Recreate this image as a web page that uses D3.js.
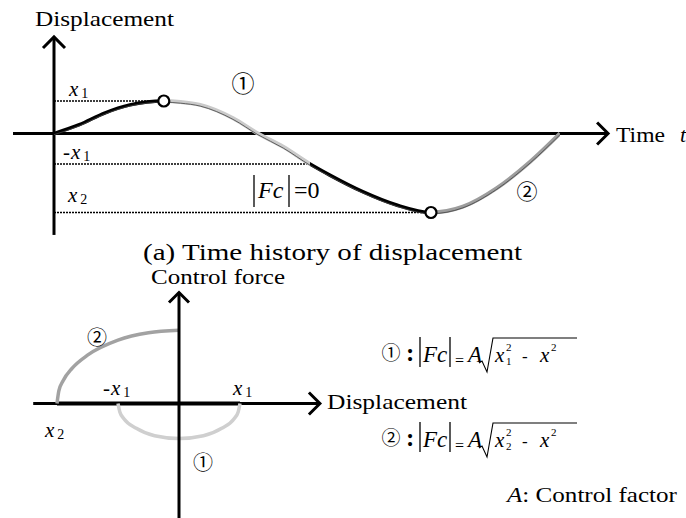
<!DOCTYPE html>
<html>
<head>
<meta charset="utf-8">
<script src="https://cdn.jsdelivr.net/npm/d3@7"></script>
<style>
body { margin: 0; background: #fff; }
</style>
</head>
<body>
<div id="chart"></div>
<script>

// ---- (a) time history of displacement ----
const histTime = [0, 0.5, 1.0, 1.5, 2.17, 2.5, 2.89, 3.54, 4.03, 4.53, 5.06, 5.45, 6.1, 6.77, 7.45, 8.08, 8.75, 9.41, 10];
const histDisp = [0, 0.27, 0.63, 0.88, 1.0, 0.97, 0.88, 0.47, 0, -0.41, -0.94, -1.28, -1.79, -2.2, -2.43, -2.25, -1.68, -0.87, 0];

// segment boundaries along time and what happens in each
const segBounds = [0, 2.17, 5.06, 7.45, 10];
const segKinds = ["free", "phase1", "free", "phase2"];

// dotted reference levels (x1, -x1, x2) and where they stop
const refLevels = [1, -0.94, -2.43];
const refEnds = [2.17, 5.06, 7.45];

// switching points (open circles)
const switchTime = [2.17, 7.45];
const switchDisp = [1, -2.43];

// ---- (b) control force vs displacement ----
const phase1X = [-1, -0.97, -0.9, -0.7, -0.4, 0, 0.4, 0.7, 0.9, 0.97, 1];
const phase1F = [0, -0.24, -0.44, -0.71, -0.92, -1, -0.92, -0.71, -0.44, -0.24, 0];
const phase2X = [-2, -1.97, -1.9, -1.75, -1.5, -1.0, -0.5, 0];
const phase2F = [0, 0.36, 0.65, 1.01, 1.38, 1.81, 2.02, 2.09];
const zeroForceSpan = [-2, 1];   // |Fc| = 0 along the axis

const W = 686, H = 518;
const SERIF = '"Liberation Serif", "Times New Roman", serif';
const CJK = '"Noto Sans CJK JP", sans-serif';

const segStyle = {
    free:   {color: "#000", width: 3.5},
    phase1: {color: "#cacaca", width: 4},
    phase2: {color: "#9d9d9d", width: 4}
};

const svg = d3.select("#chart").append("svg")
    .attr("width", W)
    .attr("height", H)
    .style("font-family", SERIF);

const defs = svg.append("defs");

// arrow heads drawn at the tip of an axis
function arrowRight(g, x, y, s) {
    g.append("path")
        .attr("d", `M${x - s},${y - s} L${x},${y} L${x - s},${y + s}`)
        .attr("fill", "none").attr("stroke", "#000").attr("stroke-width", 3);
}
function arrowUp(g, x, y, s) {
    g.append("path")
        .attr("d", `M${x - s},${y + s} L${x},${y} L${x + s},${y + s}`)
        .attr("fill", "none").attr("stroke", "#000").attr("stroke-width", 3);
}

// x with a subscript, optional leading minus
function varLabel(g, x, y, pre, sub, size) {
    size = size || 21;
    let t = g.append("text").attr("x", x).attr("y", y)
        .style("font-family", SERIF).style("font-size", size + "px");
    if (pre) t.append("tspan").text(pre);
    t.append("tspan").text("x").style("font-style", "italic").attr("dx", pre ? 1 : 0);
    t.append("tspan").text(sub).style("font-size", "14px").attr("dx", 3).attr("dy", 2);
    return t;
}

function circled(g, x, y, label, size) {
    g.append("text")
        .attr("x", x).attr("y", y)
        .attr("text-anchor", "middle")
        .attr("dominant-baseline", "central")
        .style("font-family", CJK)
        .style("font-size", size + "px")
        .text(label);
}

function serifText(g, x, y, size, str) {
    return g.append("text").attr("x", x).attr("y", y)
        .style("font-family", SERIF)
        .style("font-size", size + "px")
        .text(str);
}

// ================= top panel =================
const topG = svg.append("g");

const xT = d3.scaleLinear().domain([0, 10]).range([54, 560]);
const yT = d3.scaleLinear().domain([-2.43, 1]).range([212.5, 101]);
const timeSpan = [-0.81, 10.95];
const dispSpan = [-3.12, 2.97];

// dotted levels
refLevels.forEach((lv, i) => {
    topG.append("line")
        .attr("x1", xT(0)).attr("x2", xT(refEnds[i]))
        .attr("y1", yT(lv)).attr("y2", yT(lv))
        .attr("stroke", "#000").attr("stroke-width", 1.6)
        .attr("stroke-dasharray", "2,1");
});

// axes
topG.append("line")
    .attr("x1", xT(timeSpan[0])).attr("x2", xT(timeSpan[1]))
    .attr("y1", yT(0)).attr("y2", yT(0))
    .attr("stroke", "#000").attr("stroke-width", 3);
arrowRight(topG, xT(timeSpan[1]), yT(0), 11);

topG.append("line")
    .attr("x1", xT(0)).attr("x2", xT(0))
    .attr("y1", yT(dispSpan[0])).attr("y2", yT(dispSpan[1]))
    .attr("stroke", "#000").attr("stroke-width", 3);
arrowUp(topG, xT(0), yT(dispSpan[1]), 11);

// displacement curve, coloured by segment
const histPts = histTime.map((t, i) => [t, histDisp[i]]);
const histLine = d3.line()
    .x(d => xT(d[0]))
    .y(d => yT(d[1]))
    .curve(d3.curveMonotoneX);

segKinds.forEach((k, i) => {
    const id = "seg" + i;
    defs.append("clipPath").attr("id", id)
        .append("rect")
        .attr("x", xT(segBounds[i])).attr("y", 0)
        .attr("width", xT(segBounds[i + 1]) - xT(segBounds[i]))
        .attr("height", H);
    topG.append("path")
        .attr("d", histLine(histPts))
        .attr("clip-path", `url(#${id})`)
        .attr("fill", "none")
        .attr("stroke", segStyle[k].color)
        .attr("stroke-width", segStyle[k].width);
});

// thin base curve seen through the grey parts
topG.append("path")
    .attr("d", histLine(histPts))
    .attr("transform", "translate(0,1.2)")
    .attr("fill", "none")
    .attr("stroke", "#444")
    .attr("stroke-width", 0.8);

// switching points
topG.selectAll(".switch")
    .data(switchTime)
    .join("circle")
    .attr("class", "switch")
    .attr("cx", d => xT(d))
    .attr("cy", (d, i) => yT(switchDisp[i]))
    .attr("r", 5.5)
    .attr("fill", "#fff")
    .attr("stroke", "#000")
    .attr("stroke-width", 2.2);

// labels
serifText(topG, 35, 26, 22, "Displacement")
    .attr("textLength", 139).attr("lengthAdjust", "spacingAndGlyphs");

serifText(topG, 616, 142, 22, "Time")
    .attr("textLength", 49).attr("lengthAdjust", "spacingAndGlyphs");
serifText(topG, 680, 142, 22, "t").style("font-style", "italic");

varLabel(topG, 69, 96, "", "1");
varLabel(topG, 63, 159, "-", "1");
varLabel(topG, 68, 202, "", "2");

circled(topG, 243, 82, "①", 23);
circled(topG, 527, 190, "②", 21);

// |Fc| = 0
[254, 289].forEach(x => {
    topG.append("line").attr("x1", x).attr("x2", x)
        .attr("y1", 175).attr("y2", 207)
        .attr("stroke", "#000").attr("stroke-width", 1.3);
});
serifText(topG, 258, 198, 24, "Fc").style("font-style", "italic");
serifText(topG, 294, 198, 24, "=0");

// caption
serifText(svg, 143, 260, 24, "(a) Time history of displacement")
    .attr("textLength", 379).attr("lengthAdjust", "spacingAndGlyphs");

// ================= bottom panel =================
const botG = svg.append("g");

const xB = d3.scaleLinear().domain([-1, 1]).range([118, 240]);
const yB = d3.scaleLinear().domain([0, 1]).range([403.5, 368.5]);
const dispSpanB = [-2.39, 2.31];
const forceSpan = [-3.3, 3.17];

botG.append("line")
    .attr("x1", xB(dispSpanB[0])).attr("x2", xB(dispSpanB[1]))
    .attr("y1", yB(0)).attr("y2", yB(0))
    .attr("stroke", "#000").attr("stroke-width", 3);
arrowRight(botG, xB(dispSpanB[1]), yB(0), 11);

botG.append("line")
    .attr("x1", xB(zeroForceSpan[0])).attr("x2", xB(zeroForceSpan[1]))
    .attr("y1", yB(0)).attr("y2", yB(0))
    .attr("stroke", "#000").attr("stroke-width", 4);

const arcLine = d3.line()
    .x(d => xB(d[0]))
    .y(d => yB(d[1]))
    .curve(d3.curveMonotoneX);

botG.append("path")
    .attr("d", arcLine(phase1X.map((x, i) => [x, phase1F[i]])))
    .attr("fill", "none").attr("stroke", "#cfcfcf").attr("stroke-width", 3.5);

botG.append("path")
    .attr("d", arcLine(phase2X.map((x, i) => [x, phase2F[i]])))
    .attr("fill", "none").attr("stroke", "#a2a2a2").attr("stroke-width", 3.5);

// vertical axis over the arcs
botG.append("line")
    .attr("x1", xB(0)).attr("x2", xB(0))
    .attr("y1", yB(forceSpan[0])).attr("y2", yB(forceSpan[1]))
    .attr("stroke", "#000").attr("stroke-width", 3);
arrowUp(botG, xB(0), yB(forceSpan[1]), 10);

serifText(botG, 151, 284, 22, "Control force")
    .attr("textLength", 134).attr("lengthAdjust", "spacingAndGlyphs");

serifText(botG, 327, 409, 22, "Displacement")
    .attr("textLength", 140).attr("lengthAdjust", "spacingAndGlyphs");

varLabel(botG, 103, 395, "-", "1");
varLabel(botG, 233, 395, "", "1");
varLabel(botG, 45, 437, "", "2");

circled(botG, 97, 336, "②", 20);
circled(botG, 203, 461, "①", 20);

// formulas  |Fc| = A sqrt(xi^2 - x^2)
function formula(y, mark, idx) {
    const g = svg.append("g");
    circled(g, 391, y - 11, mark, 19);
    serifText(g, 406, y - 1, 25, ":").style("font-weight", "bold");
    [420, 450].forEach(x => {
        g.append("line").attr("x1", x).attr("x2", x)
            .attr("y1", y - 25).attr("y2", y + 5)
            .attr("stroke", "#000").attr("stroke-width", 1.3);
    });
    serifText(g, 423, y, 23, "Fc").style("font-style", "italic");
    serifText(g, 455, y + 4, 16, "=");
    serifText(g, 468, y, 23, "A").style("font-style", "italic");
    g.append("path")
        .attr("d", `M479,${y + 1} L482,${y - 1} L487,${y + 10} L493,${y - 24} L577,${y - 24}`)
        .attr("fill", "none").attr("stroke", "#000").attr("stroke-width", 1.1);

    // x_i^2 - x^2 as one text run
    let t = serifText(g, 495, y, 21, "");
    t.append("tspan").text("x").style("font-style", "italic");
    t.append("tspan").text("2").attr("x", 506).attr("dy", -11).style("font-size", "11px");
    t.append("tspan").text(idx).attr("x", 506).attr("dy", 14).style("font-size", "11px");
    t.append("tspan").text("-").attr("x", 522).attr("dy", -3).style("font-size", "17px");
    t.append("tspan").text("x").attr("x", 540).style("font-style", "italic");
    t.append("tspan").text("2").attr("x", 551).attr("dy", -11).style("font-size", "11px");
}
formula(362, "①", "1");
formula(447, "②", "2");

let cf = serifText(svg, 507, 502, 22, "")
    .attr("textLength", 170).attr("lengthAdjust", "spacingAndGlyphs");
cf.append("tspan").text("A").style("font-style", "italic");
cf.append("tspan").text(": Control factor");

</script>
</body>
</html>
